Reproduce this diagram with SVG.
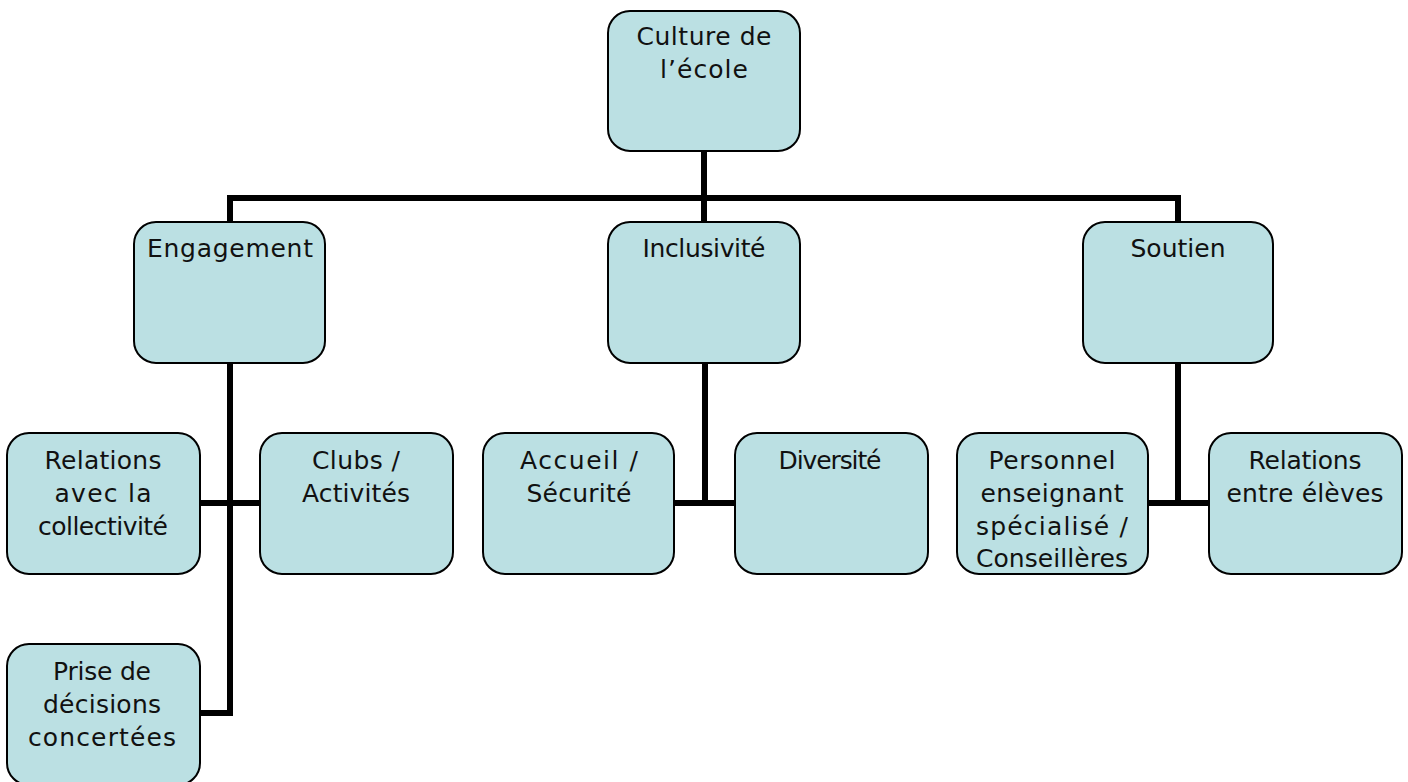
<svg xmlns="http://www.w3.org/2000/svg" width="1408" height="782" viewBox="0 0 1408 782">
<style>
.box{fill:#BBE0E3;stroke:#000;stroke-width:2}
.t{font-family:"DejaVu Sans",sans-serif;font-size:25px;fill:#111;text-anchor:middle}
.c{fill:none;stroke:#000;stroke-width:6;stroke-linecap:butt;stroke-linejoin:miter}
</style>
<rect width="1408" height="782" fill="#fff"/>
<g id="connectors">
<path class="c" d="M704 151V222"/>
<path class="c" d="M230 222V198H1178V222"/>
<path class="c" d="M230 363V713H200"/>
<path class="c" d="M200 503H260"/>
<path class="c" d="M705 363V503"/>
<path class="c" d="M674 503H735"/>
<path class="c" d="M1178 363V503"/>
<path class="c" d="M1148 503H1209"/>
</g>
<g id="n-culture"><rect class="box" x="608" y="11" width="192" height="140" rx="22"/>
<text class="t" x="704" y="45" textLength="135">Culture de</text><text class="t" x="704" y="78" textLength="88">l’école</text></g>
<g id="n-engagement"><rect class="box" x="134" y="222" width="191" height="141" rx="22"/>
<text class="t" x="230" y="257" textLength="166">Engagement</text></g>
<g id="n-inclusivite"><rect class="box" x="608" y="222" width="192" height="141" rx="22"/>
<text class="t" x="704" y="257" textLength="123">Inclusivité</text></g>
<g id="n-soutien"><rect class="box" x="1083" y="222" width="190" height="141" rx="22"/>
<text class="t" x="1178" y="257" textLength="95">Soutien</text></g>
<g id="n-relations-collectivite"><rect class="box" x="7" y="433" width="193" height="141" rx="22"/>
<text class="t" x="103" y="469" textLength="117">Relations</text><text class="t" x="103" y="502" textLength="97">avec la</text><text class="t" x="103" y="535" textLength="130">collectivité</text></g>
<g id="n-clubs"><rect class="box" x="260" y="433" width="193" height="141" rx="22"/>
<text class="t" x="356" y="469" textLength="88">Clubs /</text><text class="t" x="356" y="502" textLength="108">Activités</text></g>
<g id="n-prise"><rect class="box" x="7" y="644" width="193" height="141" rx="22"/>
<text class="t" x="102" y="680" textLength="98">Prise de</text><text class="t" x="102" y="713" textLength="118">décisions</text><text class="t" x="102" y="746" textLength="148">concertées</text></g>
<g id="n-accueil"><rect class="box" x="483" y="433" width="191" height="141" rx="22"/>
<text class="t" x="579" y="469" textLength="118">Accueil /</text><text class="t" x="579" y="502" textLength="105">Sécurité</text></g>
<g id="n-diversite"><rect class="box" x="735" y="433" width="193" height="141" rx="22"/>
<text class="t" x="830" y="469" textLength="103">Diversité</text></g>
<g id="n-personnel"><rect class="box" x="957" y="433" width="191" height="141" rx="22"/>
<text class="t" x="1052" y="469" textLength="127">Personnel</text><text class="t" x="1052" y="502" textLength="143">enseignant</text><text class="t" x="1052" y="535" textLength="152">spécialisé /</text><text class="t" x="1052" y="567" textLength="152">Conseillères</text></g>
<g id="n-relations-eleves"><rect class="box" x="1209" y="433" width="193" height="141" rx="22"/>
<text class="t" x="1305" y="469" textLength="113">Relations</text><text class="t" x="1305" y="502" textLength="157">entre élèves</text></g>
</svg>
